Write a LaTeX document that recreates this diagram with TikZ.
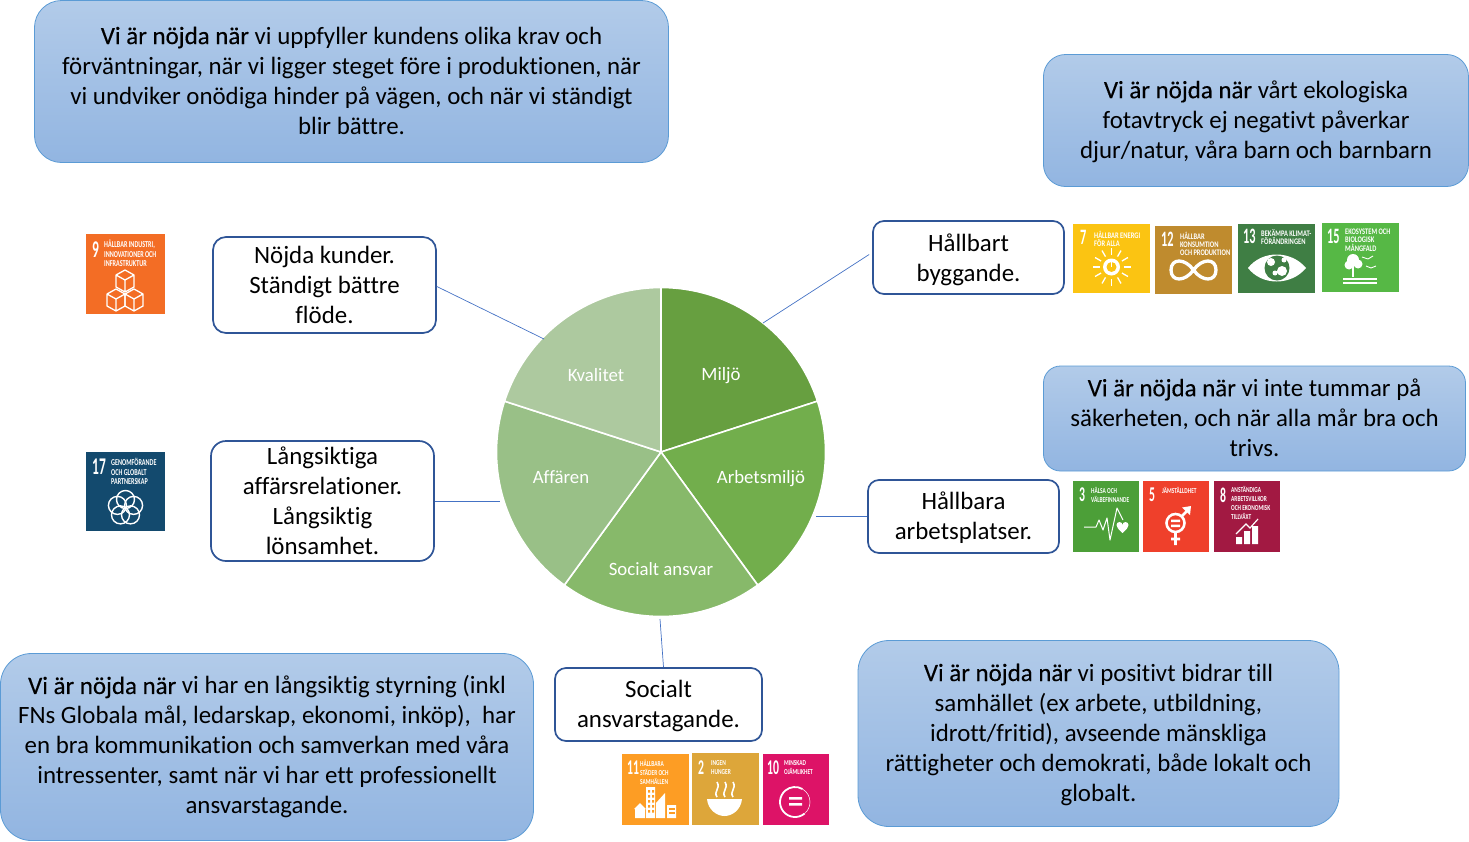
\documentclass[tikz,border=0pt]{standalone}
\usepackage{fontspec}
\setmainfont{Carlito}[RawFeature={-liga;-clig}]
\usetikzlibrary{calc}
\definecolor{bluetop}{HTML}{B2CBE9}
\definecolor{bluebot}{HTML}{92B5E1}
\definecolor{blueedge}{HTML}{5B9BD5}
\definecolor{navy}{HTML}{2F5597}
\definecolor{linec}{HTML}{4472C4}
\tikzset{
  x=1pt,y=-1pt,
  callout/.style={draw=blueedge,line width=.8pt,top color=bluetop,bottom color=bluebot,inner sep=0pt},
  topic/.style={draw=navy,line width=1.7pt,fill=white,inner sep=0pt},
  boxtext/.style={align=center,inner sep=0pt,text=black,font=\fontsize{24.9}{30}\selectfont},
  link/.style={draw=linec,line width=.7pt},
  pielabel/.style={text=white,font=\fontsize{18.8}{22}\selectfont,inner sep=0pt,anchor=base},
  wedge/.style={draw=white,line width=1.6pt,line join=round},
  sdgnum/.style={text=white,font=\bfseries\fontsize{#1}{#1}\selectfont\addfontfeature{FakeStretch=0.56},inner sep=0pt,anchor=north west},
  sdgnum/.default=22,
  sdgtop/.style={text=white,font=\bfseries\fontsize{8.5}{8.2}\selectfont\addfontfeature{FakeStretch=0.76},inner sep=0pt,anchor=north west,align=left},
  sdglow/.style={text=white,font=\bfseries\fontsize{7.6}{9}\selectfont\addfontfeature{FakeStretch=0.71},inner sep=0pt,anchor=north west,align=left},
  sdglarge/.style={text=white,font=\bfseries\fontsize{9}{9.5}\selectfont\addfontfeature{FakeStretch=0.68},inner sep=0pt,anchor=north west,align=left},
  sq/.style={inner sep=0pt,anchor=north west}
}
\newcommand{\vn}{{\addfontfeature{FakeBold=0.3}Vi är nöjda när}}
\definecolor{g9}{HTML}{F36D25}
\definecolor{g17}{HTML}{134A6E}
\definecolor{g7}{HTML}{FBC412}
\definecolor{g12}{HTML}{BF8B2E}
\definecolor{g13}{HTML}{3F7E44}
\definecolor{g15}{HTML}{56B845}
\definecolor{g3}{HTML}{4C9F38}
\definecolor{g5}{HTML}{EF402B}
\definecolor{g8}{HTML}{A21942}
\definecolor{g11}{HTML}{FD9D24}
\definecolor{g2}{HTML}{DDA63A}
\definecolor{g10}{HTML}{DD1367}
\begin{document}
\begin{tikzpicture}
\useasboundingbox (0,0) rectangle (1469,841);
% callouts
\node[callout,rounded corners=27pt,minimum width=634pt,minimum height=162pt] (c1) at (351.5,81.5) {};
\node[boxtext] (c1t) at ($(c1)+(0,-1)$) {\vn{} vi uppfyller kundens olika krav och\\förväntningar, när vi ligger steget före i produktionen, när\\vi undviker onödiga hinder på vägen, och när vi ständigt\\blir bättre.};
\node[callout,rounded corners=22pt,minimum width=425pt,minimum height=132pt] (c2) at (1256,120.5) {};
\node[boxtext] (c2t) at ($(c2)+(0,1)$) {\vn{} vårt ekologiska\\fotavtryck ej negativt påverkar\\djur/natur, våra barn och barnbarn};
\node[callout,rounded corners=17pt,minimum width=422pt,minimum height=105pt] (c3) at (1254.5,418.5) {};
\node[boxtext] (c3t) at ($(c3)+(0,-1)$) {\vn{} vi inte tummar på\\säkerheten, och när alla mår bra och\\trivs.};
\node[callout,rounded corners=31pt,minimum width=533pt,minimum height=187pt] (c4) at (267,747) {};
\node[boxtext] (c4t) at ($(c4)+(0,0)$) {\vn{} vi har en långsiktig styrning (inkl\\FNs Globala mål, ledarskap, ekonomi, inköp),\ \ har\\en bra kommunikation och samverkan med våra\\intressenter, samt när vi har ett professionellt\\ansvarstagande.};
\node[callout,rounded corners=31pt,minimum width=481pt,minimum height=186pt] (c5) at (1098.5,733.5) {};
\node[boxtext] (c5t) at ($(c5)+(0,1)$) {\vn{} vi positivt bidrar till\\samhället (ex arbete, utbildning,\\idrott/fritid), avseende mänskliga\\rättigheter och demokrati, både lokalt och\\globalt.};
% topics
\node[topic,rounded corners=13pt,minimum width=223pt,minimum height=96pt] (t1) at (324.5,285) {};
\node[boxtext] (t1t) at ($(t1)+(0,0)$) {Nöjda kunder.\\Ständigt bättre\\flöde.};
\node[topic,rounded corners=15pt,minimum width=223pt,minimum height=120pt] (t2) at (322.5,501) {};
\node[boxtext] (t2t) at ($(t2)+(0,0)$) {Långsiktiga\\affärsrelationer.\\Långsiktig\\lönsamhet.};
\node[topic,rounded corners=11pt,minimum width=191pt,minimum height=73pt] (t3) at (968.5,257.5) {};
\node[boxtext] (t3t) at ($(t3)+(0,2)$) {Hållbart\\byggande.};
\node[topic,rounded corners=11pt,minimum width=191pt,minimum height=73pt] (t4) at (963.5,516.5) {};
\node[boxtext] (t4t) at ($(t4)+(0,1)$) {Hållbara\\arbetsplatser.};
\node[topic,rounded corners=11pt,minimum width=207pt,minimum height=73pt] (t5) at (658.5,704.5) {};
\node[boxtext] (t5t) at ($(t5)+(0,1)$) {Socialt\\ansvarstagande.};
% pie
\coordinate (o) at (661,452);
\def\R{164.5}
\foreach \c/\a/\b in {679F40/90/18,72AE4C/18/-54,87B96A/-54/-126,99C087/-126/-198,ADC99F/-198/-270}{
  \definecolor{tmp}{HTML}{\c}
  \draw[wedge,fill=tmp] (o) -- ++({\R*cos(\a)},{-\R*sin(\a)}) arc[start angle=-\a,end angle=-\b,radius=\R] -- cycle;
}
\node[pielabel] (p1) at (721,380) {Miljö};
\node[pielabel] (p2) at (761,483) {Arbetsmiljö};
\node[pielabel] (p3) at (661,575) {Socialt ansvar};
\node[pielabel] (p4) at (561,483) {Affären};
\node[pielabel] (p5) at (596,381) {Kvalitet};
% connectors
\coordinate (a1) at (544,339);
\coordinate (a2) at (500,501);
\coordinate (a3) at (763,323);
\coordinate (a4) at (816,516.5);
\coordinate (a5) at (660,619);
\draw[link] ($(t1.east)+(0,1.5)$) -- (a1);
\draw[link] (t2.east) -- (a2);
\draw[link] ($(t3.west)+(-3,-3)$) -- (a3);
\draw[link] (t4.west) -- (a4);
\draw[link] (a5) -- ($(t5.north)+(5,0)$);
% 9
\node[sq,fill=g9,minimum width=79pt,minimum height=80pt] (s9) at (86,234) {};
\node[sdgnum=24] (n9) at (92,242) {9};
\node[sdglarge] (l9) at (104,240) {HÅLLBAR INDUSTRI,\\INNOVATIONER OCH\\INFRASTRUKTUR};
\foreach \dx/\dy in {0/270,-9/289,9/289}{
 \begin{scope}[shift={(125+\dx,\dy)}]
 \draw[white,line width=1.3pt,line join=round] (0,0)--(9,5)--(0,10)--(-9,5)--cycle (-9,5)--(-9,17)--(0,22)--(9,17)--(9,5) (0,10)--(0,22);
 \end{scope}}
% 17
\node[sq,fill=g17,minimum width=79pt,minimum height=79pt] (s17) at (86,452) {};
\node[sdgnum=24] (n17) at (92,459) {17};
\node[sdglarge] (l17) at (111,458) {GENOMFÖRANDE\\OCH GLOBALT\\PARTNERSKAP};
\foreach \a in {90,18,-54,-126,162}{\draw[white,line width=1.4pt] ($(125.5,508)+({8.5*cos(\a)},{-8.5*sin(\a)})$) circle (9);}
% 7
\node[sq,fill=g7,minimum width=77pt,minimum height=69pt] (s7) at (1073,224) {};
\node[sdgnum] (n7) at (1080,230) {7};
\node[sdgtop] (l7) at (1094,231) {HÅLLBAR ENERGI\\FÖR ALLA};
\fill[white] (1111.5,267) circle (8.5);
\fill[g7] (1111.5,267) circle (5);
\fill[white] (1110.7,262) rectangle (1112.3,267);
\foreach \a in {0,30,...,330}{\draw[white,line width=1.3pt] ($(1111.5,267)+({12*cos(\a)},{12*sin(\a)})$)--($(1111.5,267)+({19*cos(\a)},{19*sin(\a)})$);}
% 12
\node[sq,fill=g12,minimum width=77pt,minimum height=68pt] (s12) at (1155,226) {};
\node[sdgnum] (n12) at (1161,232) {12};
\node[sdgtop] (l12) at (1180,232) {HÅLLBAR\\KONSUMTION\\OCH PRODUKTION};
\draw[white,line width=3.3pt] (1193.5,270) .. controls (1185,258) and (1171,258) .. (1171,270) .. controls (1171,282) and (1185,282) .. (1193.5,270) .. controls (1202,258) and (1216,258) .. (1216,270) .. controls (1216,282) and (1202,282) .. (1193.5,270);
% 13
\node[sq,fill=g13,minimum width=77pt,minimum height=69pt] (s13) at (1238,224) {};
\node[sdgnum] (n13) at (1243,229) {13};
\node[sdgtop] (l13) at (1261,229) {BEKÄMPA KLIMAT-\\FÖRÄNDRINGEN};
\fill[white] (1248,268) .. controls (1262,250) and (1291,250) .. (1306,268) .. controls (1291,286) and (1262,286) .. (1248,268) -- cycle;
\fill[g13] (1277,268) circle (12.5);
\fill[white] (1271,262) circle (4) (1282,271) circle (5) (1275,273) circle (2.5) (1284,260) circle (2.5);
% 15
\node[sq,fill=g15,minimum width=77pt,minimum height=69pt] (s15) at (1322,223) {};
\node[sdgnum] (n15) at (1327,229) {15};
\node[sdgtop] (l15) at (1345,229) {EKOSYSTEM OCH\\BIOLOGISK\\MÅNGFALD};
\fill[white] (1353,260) circle (6) (1349,265) circle (4.5) (1358,264) circle (4.5);
\draw[white,line width=1.3pt] (1353,266)--(1353,277);
\draw[white,line width=1.2pt] (1343,279)--(1377,279) (1343,283)--(1377,283);
\draw[white,line width=.9pt] (1362,257)--(1368,259)--(1373,256) (1366,266)--(1371,268)--(1376,266);
% 3
\node[sq,fill=g3,minimum width=66pt,minimum height=71pt] (s3) at (1073,481) {};
\node[sdgnum=21] (n3) at (1079,488) {3};
\node[sdglow] (l3) at (1091,487) {HÄLSA OCH\\VÄLBEFINNANDE};
\draw[white,line width=1pt,line join=round] (1084,527)--(1096,527)--(1099,520)--(1103,530)--(1107,518)--(1110,540)--(1117,508)--(1123,520);
\fill[white] (1122.5,533) .. controls (1118,529) and (1116.5,527) .. (1116.5,525) arc[start angle=180,end angle=360,radius=3] arc[start angle=180,end angle=360,radius=3] .. controls (1128.5,527) and (1127,529) .. (1122.5,533) -- cycle;
% 5
\node[sq,fill=g5,minimum width=66pt,minimum height=71pt] (s5) at (1143,481) {};
\node[sdgnum=21] (n5) at (1149,488) {5};
\node[sdglow] (l5) at (1162,487) {JÄMSTÄLLDHET};
\draw[white,line width=2.6pt] (1175.5,523) circle (9);
\draw[white,line width=2.6pt] (1175.5,532)--(1175.5,545) (1171,539)--(1180,539) (1182,516)--(1188,510);
\fill[white] (1191,506)--(1182,507.5)--(1190,515)--cycle;
\fill[white] (1171,519.5) rectangle (1180,522) (1171,524.5) rectangle (1180,527);
% 8
\node[sq,fill=g8,minimum width=66pt,minimum height=71pt] (s8) at (1214,481) {};
\node[sdgnum=21] (n8) at (1220,488) {8};
\node[sdglow] (l8) at (1231,486) {ANSTÄNDIGA\\ARBETSVILLKOR\\OCH EKONOMISK\\TILLVÄXT};
\fill[white] (1236,537) rectangle (1242,544) (1244,531) rectangle (1250,544) (1252,526) rectangle (1258,544);
\draw[white,line width=1.2pt] (1236,534)--(1246,524)--(1250,528)--(1258,519);
% 11
\node[sq,fill=g11,minimum width=67pt,minimum height=71pt] (s11) at (622,754) {};
\node[sdgnum=21] (n11) at (627,761) {11};
\node[sdglow] (l11) at (640,760) {HÅLLBARA\\STÄDER OCH\\SAMHÄLLEN};
\fill[white] (635,808) rectangle (645,818) (640,803)--(634,809)--(646,809)--cycle (646,787) rectangle (655,818) (656,818)--(656,803)--(665,793)--(665,818)--cycle (667,805) rectangle (676,818);
\foreach \yy in {790,795,800,805,810}{\fill[g11] (648,\yy) rectangle (650,\yy+2.5) (652,\yy) rectangle (654,\yy+2.5);}
\foreach \yy in {808,812}{\fill[g11] (668.5,\yy) rectangle (675,\yy+1.5);}
% 2
\node[sq,fill=g2,minimum width=67pt,minimum height=72pt] (s2) at (692,753) {};
\node[sdgnum=21] (n2) at (698,761) {2};
\node[sdglow] (l2) at (711,760) {INGEN\\HUNGER};
\fill[white] (707,799) -- (742,799) .. controls (741,810) and (732,816) .. (724.5,816) .. controls (717,816) and (708,810) .. (707,799) -- cycle;
\foreach \x in {717,725,733}{\draw[white,line width=1.6pt] (\x,797) .. controls (\x-4,791) and (\x+4,789) .. (\x,782);}
% 10
\node[sq,fill=g10,minimum width=66pt,minimum height=71pt] (s10) at (763,754) {};
\node[sdgnum=21] (n10) at (767,761) {10};
\node[sdglow] (l10) at (784,760) {MINSKAD\\OJÄMLIKHET};
\draw[white,line width=1.8pt] (795,802) ++(50:15) arc[start angle=50,end angle=300,radius=15];
\draw[white,line width=.5pt] (795,802) ++(-60:15) arc[start angle=-60,end angle=50,radius=15];
\fill[white] (789,797) rectangle (802,799.5) (789,803) rectangle (802,805.5);
\end{tikzpicture}
\end{document}
